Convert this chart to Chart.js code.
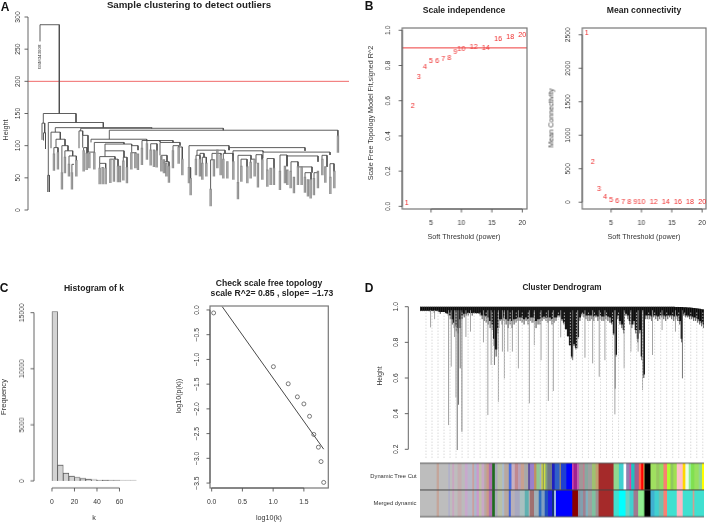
<!DOCTYPE html>
<html>
<head>
<meta charset="utf-8">
<title>WGCNA panels</title>
<script src="https://cdn.jsdelivr.net/npm/chart.js@4"></script>
<style>
  html, body { margin: 0; padding: 0; background: #fff; }
  #page { position: relative; width: 708px; height: 524px; overflow: hidden; filter: blur(0.3px); font-family: "Liberation Sans", sans-serif; color: #333; }
  #page canvas { position: absolute; }
  .lbl { position: absolute; white-space: nowrap; transform: translate(-50%, -50%); font-size: 7.2px; line-height: 1; }
  .rot { transform: translate(-50%, -50%) rotate(-90deg); }
  .ttl { font-weight: bold; font-size: 8.6px; color: #222; }
  .pan { font-weight: bold; font-size: 12px; color: #111; }
</style>
</head>
<body>
<div id="page"></div>
<script>
// --- Panel A: sample tree. Links are [left, right, height, leftBottom, rightBottom]
const sampleLinks = [
  [12, 31.3, 288, 262, 150], [15.3, 48, 150, 135, 136], [14, 16.7, 135, 109, 120], [15.5, 17.5, 120, 108, 95],
  [20.3, 75.3, 136, 54, 128], [19.7, 21.3, 54, 28, 28], [27.3, 123.7, 128, 121, 127], [23, 32.3, 121, 96, 110],
  [28, 37, 110, 97, 100], [25.9, 30, 97, 87, 89], [33.9, 40, 100, 58, 92], [36.9, 44.7, 92, 82, 84],
  [41, 48.3, 84, 71, 77], [43.9, 46, 71, 58, 71], [52.7, 195.3, 127, 123, 124], [51, 54.7, 123, 96, 116],
  [54.7, 60, 116, 97, 90], [55.6, 59, 97, 92, 88], [59, 66.3, 90, 88, 89], [81.3, 309.9, 124, 110, 115],
  [63, 118.7, 110, 105, 108], [66.3, 96, 105, 89, 102.5], [77, 103.7, 102.5, 92, 100], [77, 96, 92, 83, 82],
  [71.7, 87, 83, 72.5, 79], [71.7, 77.7, 72.5, 65, 65], [82.3, 90, 79, 79, 68], [95.3, 99, 82, 76, 66],
  [103.7, 110, 100, 89, 93], [103.3, 108, 89, 89, 88], [114, 132, 108, 96, 106], [118.9, 145, 108, 103, 105],
  [122.7, 129, 103, 93, 92], [132, 152, 105, 85, 100], [133.3, 139, 85, 78, 75], [136, 141, 75, 72.5, 68],
  [145, 150.7, 100, 92, 98], [150.7, 154.3, 98, 98, 79], [161, 201, 100, 66, 93], [161, 162.6, 66, 66, 49],
  [169, 197, 93, 85, 88], [168, 172, 85, 79, 79], [174.3, 178.3, 82, 72.5, 72.5], [172, 176, 88, 85, 82],
  [182.6, 186, 78, 32, 78], [184, 193, 88, 78, 85.5], [195.3, 205, 88, 79, 75], [201, 277, 97, 93, 92],
  [205, 235, 92, 85, 90], [210, 223, 85, 42.5, 79], [213, 219, 79, 68, 67], [222.6, 226.6, 79, 74, 79],
  [228, 234, 86, 72.5, 78], [235, 302, 90, 80, 85.5], [239, 246, 80, 62, 65], [252, 259, 85.5, 60, 68],
  [259, 290, 84, 68, 75], [263, 270, 75, 60, 67], [270, 284, 67, 67, 58], [277, 283, 58, 51, 47],
  [286, 290, 58, 49, 60], [294, 299, 85, 79, 67], [302, 306, 72, 51, 60]
];
const leafPos = [25.3, 29.3, 33.3, 36.3, 40.3, 43.3, 47.7, 55, 58, 60.7, 65.7, 71, 74, 77, 81.7, 85.3, 89.3, 91.3, 94.7, 98.3,
  102.7, 106.7, 109.3, 113.3, 118.3, 122, 125.3, 128, 132.7, 135.3, 137.7, 140.3, 144.3, 150, 153.7, 160.3, 162, 167.3, 171.3, 173.7,
  177.7, 182, 185.3, 188.7, 192, 194.7, 198.7, 204.7, 209.3, 212.7, 218.7, 222, 226, 229.3, 233.7, 238.7, 242, 245.3, 251.3, 256.3,
  258.7, 262, 265.3, 269.3, 273, 276.3, 279.3, 282, 285.3, 289.3, 293.7, 296.7, 301.7, 305.7, 309.3];
const leafTop = [87, 89, 58, 82, 71, 58, 77, 92, 88, 88, 89, 65, 66, 65, 79, 78, 68, 68, 76, 66,
  89, 88, 87, 96, 103, 93, 93, 92, 84, 78, 72.5, 68, 92, 98, 79, 66, 49, 79, 79, 72.5,
  72.5, 32, 78, 93, 85.5, 79, 75, 75, 42.5, 68, 67, 74, 79, 72.5, 78, 62, 65, 65, 60, 68,
  62, 60, 51, 67, 67, 51, 47, 47, 49, 60, 79, 67, 51, 60, 115];
const leafBottom = [61, 63, 32, 57, 52, 32, 52, 60, 62, 65, 63, 40, 40, 40, 42, 44, 43, 43, 46, 41.5,
  63, 65, 62, 70, 78, 69, 67, 66, 60, 57, 52, 42.5, 65, 72, 54, 41.5, 23, 54, 52, 47,
  52, 6, 52, 65, 54, 49, 49, 47, 16.6, 44, 41.5, 49, 52, 35, 47, 36, 39, 39, 31, 41.5,
  39, 34, 26, 39, 39, 27, 21, 18, 23, 34, 54, 42.5, 25, 34, 89];
const outlierCut = [200];

// --- Panel B: soft threshold
const powers = [1, 2, 3, 4, 5, 6, 7, 8, 9, 10, 12, 14, 16, 18, 20];
const scaleFitR2 = [0.02, 0.568, 0.732, 0.794, 0.826, 0.828, 0.834, 0.84, 0.874, 0.892, 0.906, 0.898, 0.949, 0.96, 0.974];
const meanConn = [2530, 601, 195, 75, 35, 20, 10, 5, 3, 2, 2, 1, 1, 1, 1];
const r2Cut = [0.9];

// --- Panel C: histogram and scale free fit
const kBinMid = [2.5, 7.5, 12.5, 17.5, 22.5, 27.5, 32.5, 37.5, 42.5, 47.5, 52.5, 57.5, 62.5, 67.5, 72.5];
const kBinCount = [15100, 1400, 690, 420, 300, 210, 150, 110, 70, 50, 40, 30, 20, 15, 10];
const logK = [0.032, 1.004, 1.245, 1.394, 1.5, 1.592, 1.661, 1.736, 1.779, 1.822];
const logP = [-0.06, -1.147, -1.493, -1.757, -1.9, -2.15, -2.517, -2.775, -3.066, -3.487];
const fitX = [0.171, 1.822];
const fitY = [0.068, -2.815];

// --- Panel D: gene tree, dense band edges (one value every 2 positions)
const bandBottom = [
  .975, .975, .975, .975, .975, .97, .975, .965, .975, .97,
  .96, .97, .97, .96, .95, .93, .90, .88, .86, .85,
  .88, .93, .94, .95, .95, .96, .95, .96, .96, .96,
  .95, .93, .92, .91, .90, .88, .87, .78, .72, .85,
  .92, .90, .92, .90, .88, .90, .88, .90, .91, .92,
  .92, .91, .90, .92, .90, .92, .91, .91, .88, .90,
  .90, .92, .93, .92, .91, .92, .90, .91, .92, .94,
  .94, .92, .90, .87, .83, .78, .71, .78, .76, .82,
  .92, .95, .94, .93, .92, .92, .93, .92, .94, .92,
  .93, .92, .92, .93, .92, .91, .90, .84, .72, .93,
  .90, .88, .85, .95, .93, .90, .88, .90, .85, .80,
  .85, .70, .60, .93, .93, .93, .92, .94, .93, .92,
  .93, .94, .93, .92, .93, .94, .93, .92, .93, .92,
  .90, .80, .95, .94, .94, .93, .93, .92, .92, .91,
  .90, .89, .88
];
const bandCore = [
  .978, .978, .978, .978, .978, .978, .978, .978, .978, .978,
  .97, .97, .97, .965, .96, .95, .93, .91, .89, .88,
  .93, .95, .96, .96, .965, .965, .965, .965, .965, .965,
  .96, .95, .95, .945, .94, .92, .90, .82, .76, .88,
  .93, .93, .94, .93, .92, .93, .92, .93, .93, .94,
  .94, .94, .93, .94, .93, .94, .94, .94, .92, .93,
  .93, .94, .945, .94, .94, .94, .93, .94, .94, .95,
  .95, .93, .91, .875, .835, .785, .72, .79, .77, .83,
  .94, .96, .96, .95, .95, .95, .95, .945, .95, .945,
  .95, .945, .945, .95, .945, .94, .91, .85, .73, .95,
  .92, .90, .87, .96, .95, .92, .90, .92, .87, .82,
  .87, .72, .62, .95, .95, .95, .945, .95, .95, .945,
  .95, .95, .95, .945, .95, .95, .95, .945, .95, .945,
  .92, .82, .96, .95, .95, .945, .945, .94, .94, .93,
  .92, .91, .90
];
// upper edge of the band, drops below 1.0 only on the last 15 columns
const bandTopEnd = [.999, .999, .998, .998, .997, .997, .996, .995, .994, .993, .992, .99, .988, .986, .984];
const graySpikePos = [10.6, 14.6, 28.6, 31.3, 34.6, 36, 46, 50.6, 63.6, 68, 71.3, 78.6, 82.6, 84.6, 88, 92.6, 98.6, 109.6, 114.6, 121.3, 128.6, 133.6, 141, 158, 165.3, 173, 179.6, 185.3, 195.3, 204.6, 211.3, 218.6, 223, 233, 242.6, 256];
const graySpikeLow = [.884, .93, .336, .664, .83, .491, .83, .86, .80, .392, .673, .467, .748, .598, .748, .748, .654, .458, .785, .70, .471, .527, .828, .766, .714, .682, .607, .70, .396, .654, .748, .748, .533, .729, .869, .86];
const darkSpikePos = [37.3, 38.6, 40.3, 42, 74.6, 153, 195.6, 223.6, 263];
const darkSpikeLow = [.196, .45, .654, .299, .673, .70, .54, .607, .598];

// --- Panel D: module colour strips, run ends on a 0-854 position scale
const stripRows = ['Dynamic Tree Cut', 'Merged dynamic'];
const treeCutEnd = [51, 58, 86, 91, 98, 104, 114, 126, 136, 144, 158, 164, 171, 178, 186, 194, 201, 208, 218, 226, 234, 248, 254, 268, 276, 286, 296, 304, 314, 326, 332, 344, 351, 361, 366, 370, 374, 378, 384, 398, 406, 421, 424, 441, 458, 463, 473, 479, 491, 496, 506, 518, 529, 538, 583, 599, 613, 621, 631, 636, 646, 659, 666, 673, 676, 694, 711, 721, 733, 744, 754, 763, 773, 791, 799, 809, 816, 826, 839, 849, 856];
const treeCutColor = ['#bdbdbd', '#c4a59a', '#bdbdbd', '#b0b0c8', '#bdbdbd', '#c9a6c0', '#bdbdbd', '#c4adb0', '#bbbbbb', '#c8a8cc', '#b8b8c8', '#c8a0a0', '#aab8cc', '#cc99cc', '#c0c0a8', '#c8a8c8', '#b8a8a0', '#cc9a88', '#b070b0', '#1f6b1f', '#aaaabb', '#b8c0a8', '#aabbcc', '#b8a8a0', '#4a6de0', '#c8b0c0', '#c08890', '#b8a0b8', '#c8a090', '#a8a8a8', '#6050a0', '#9a80cc', '#c09060', '#90c890', '#a0b0c0', '#d0d040', '#90a060', '#d0e040', '#80a080', '#707888', '#2020c0', '#3060c8', '#c8a040', '#2040d0', '#0000ff', '#cc44aa', '#a02090', '#c060b0', '#a09898', '#c08090', '#88a8a0', '#a0a0a0', '#a0c070', '#c0a070', '#a52a2a', '#90d890', '#40d0d0', '#ffffff', '#9080b0', '#e040a0', '#20c0c0', '#a06090', '#ff6347', '#ff0000', '#d0c060', '#000000', '#a0e060', '#98c860', '#90e060', '#fa8072', '#adff2f', '#90c860', '#a0e050', '#ffc0cb', '#ffd700', '#e8ffe8', '#90ee90', '#80e050', '#98e060', '#90d890', '#ffff00'];
const mergedEnd = [51, 58, 86, 91, 98, 104, 114, 126, 136, 144, 158, 164, 171, 178, 186, 194, 201, 208, 218, 226, 234, 248, 254, 268, 274, 286, 301, 316, 328, 331, 344, 358, 366, 376, 386, 398, 404, 410, 459, 476, 483, 491, 499, 506, 518, 529, 538, 583, 599, 619, 631, 643, 657, 673, 676, 694, 706, 719, 733, 744, 773, 791, 821, 826, 856];
const mergedColor = ['#bdbdbd', '#c4a59a', '#bdbdbd', '#b0b0c8', '#bdbdbd', '#c9a6c0', '#bdbdbd', '#c4adb0', '#bbbbbb', '#c8a8cc', '#b8b8c8', '#c8a0a0', '#aab8cc', '#cc99cc', '#c0c0a8', '#c8a8c8', '#b8a8a0', '#cc9a88', '#b070b0', '#1f6b1f', '#aaaabb', '#b8c0a8', '#aabbcc', '#b8a8a0', '#4060e0', '#b8b0b8', '#a8a8c0', '#a8c0c0', '#60b0b0', '#bbbbbb', '#a07070', '#a0b0b8', '#3070c0', '#80a0c0', '#2050c0', '#2020e0', '#103080', '#a0b8e0', '#0000ff', '#8b0000', '#9090a0', '#80a0b0', '#a08090', '#80b0c0', '#a0a0a0', '#80c0a0', '#a09090', '#a52a2a', '#40e0d0', '#00ffff', '#70d0c0', '#40d0d0', '#a07890', '#90ee90', '#70d070', '#000000', '#40b0d0', '#40d0d0', '#70c0b0', '#fa8072', '#40e0d0', '#ffb6c1', '#40e0d0', '#d0a090', '#40e0d0'];

const page = document.getElementById('page');

// R-style axes: spine between first and last tick, rotated y labels
Chart.register({
  id: 'rAxes',
  afterDatasetsDraw(chart, args, o) {
    const { ctx, chartArea: a, scales } = chart;
    if (!o.on) return;
    ctx.save();
    ctx.strokeStyle = '#555';
    ctx.lineWidth = 0.9;
    ctx.fillStyle = '#333';
    ctx.font = '6.8px "Liberation Sans"';
    ctx.textAlign = 'center';
    ctx.textBaseline = 'middle';
    if (o.box) {
      ctx.strokeStyle = '#777';
      ctx.lineWidth = 1.2;
      ctx.strokeRect(a.left, a.top, a.right - a.left, a.bottom - a.top);
      ctx.strokeStyle = '#555';
      ctx.lineWidth = 0.9;
    }
    if (o.showX) {
      const y0 = a.bottom + o.xOff;
      const xs = scales.x.ticks.map(t => scales.x.getPixelForValue(t.value));
      ctx.beginPath();
      ctx.moveTo(xs[0], y0);
      ctx.lineTo(xs[xs.length - 1], y0);
      xs.forEach(x => { ctx.moveTo(x, y0); ctx.lineTo(x, y0 + 3.5); });
      ctx.stroke();
      scales.x.ticks.forEach((t, i) => ctx.fillText(t.label, xs[i], a.bottom + o.xLab));
    }
    const x0 = a.left - o.yOff;
    const ys = scales.y.ticks.map(t => scales.y.getPixelForValue(t.value));
    ctx.beginPath();
    ctx.moveTo(x0, ys[0]);
    ctx.lineTo(x0, ys[ys.length - 1]);
    ys.forEach(y => { ctx.moveTo(x0, y); ctx.lineTo(x0 - 3.5, y); });
    ctx.stroke();
    scales.y.ticks.forEach((t, i) => {
      ctx.save();
      ctx.translate(a.left - o.yLab, ys[i]);
      ctx.rotate(-Math.PI / 2);
      ctx.fillText(t.label, 0, 0);
      ctx.restore();
    });
    ctx.restore();
  }
});

// red number labels instead of points (panel B)
Chart.register({
  id: 'pointText',
  afterDatasetsDraw(chart) {
    const { ctx } = chart;
    chart.data.datasets.forEach((ds, i) => {
      if (!ds.pointText) return;
      ctx.save();
      ctx.fillStyle = '#ee2c2c';
      ctx.font = '7.2px "Liberation Sans"';
      ctx.textAlign = 'center';
      ctx.textBaseline = 'middle';
      chart.getDatasetMeta(i).data.forEach((el, j) => ctx.fillText(ds.pointText[j], el.x, el.y));
      ctx.restore();
    });
  }
});

function axis(min, max, values, labels) {
  return {
    type: 'linear', display: false, min, max,
    afterBuildTicks: s => { if (values) s.ticks = values.map(value => ({ value })); },
    ticks: { callback: (v, i) => (labels ? labels[i] : String(v)) }
  };
}

// canvas placed so the plot area lands on the given page box
function addChart(box, cfg) {
  const m = { l: 30, r: 3, t: 14, b: 26 };
  const c = document.createElement('canvas');
  const w = box.right - box.left + m.l + m.r;
  const h = box.bottom - box.top + m.t + m.b;
  c.width = w; c.height = h;
  c.style.left = (box.left - m.l) + 'px';
  c.style.top = (box.top - m.t) + 'px';
  c.style.width = w + 'px';
  c.style.height = h + 'px';
  page.appendChild(c);
  cfg.options = Object.assign({ responsive: false, animation: false, events: [],
    layout: { padding: { left: m.l, right: m.r, top: m.t, bottom: m.b } } }, cfg.options);
  cfg.options.plugins = Object.assign({ legend: { display: false }, tooltip: { enabled: false } }, cfg.options.plugins);
  return new Chart(c, cfg);
}

function addLabel(text, x, y, cls, size) {
  const d = document.createElement('div');
  d.className = 'lbl ' + (cls || '');
  d.textContent = text;
  d.style.left = x + 'px';
  d.style.top = y + 'px';
  if (size) d.style.fontSize = size + 'px';
  page.appendChild(d);
}

// points with breaks, for one scatter line dataset
function pathData(rows) {
  const pts = [];
  rows.forEach(r => {
    r.forEach(p => pts.push({ x: p[0], y: p[1] }));
    pts.push({ x: null, y: null });
  });
  return pts;
}
function lineSet(data, color, width, extra) {
  return Object.assign({ type: 'scatter', data, showLine: true, borderColor: color, borderWidth: width,
    pointRadius: 0, fill: false, tension: 0, spanGaps: false, borderCapStyle: 'butt' }, extra);
}

// ---- A ----
const linkPaths = sampleLinks.map(l => [[l[0], l[3]], [l[0], l[2]], [l[1], l[2]], [l[1], l[4]]]);
const leafPaths = leafPos.map((x, i) => [[x, leafBottom[i]], [x, leafTop[i]], [x + 1.3, leafTop[i]], [x + 1.3, leafBottom[i]]]);
addChart({ left: 28, right: 349, top: 17, bottom: 210 }, {
  type: 'scatter',
  data: { datasets: [
    lineSet(pathData(leafPaths), '#8c8c8c', 1.1),
    lineSet(pathData(linkPaths), '#4d4d4d', 0.9),
    lineSet([{ x: 0, y: outlierCut[0] }, { x: 321, y: outlierCut[0] }], '#f06a6a', 1)
  ] },
  options: {
    scales: { x: axis(0, 321), y: axis(0, 300, [0, 50, 100, 150, 200, 250, 300]) },
    plugins: { rAxes: { on: true, yOff: 0, yLab: 10 } }
  }
});

// ---- B ----
addChart({ left: 402.3, right: 526.7, top: 27.7, bottom: 209.3 }, {
  type: 'scatter',
  data: { datasets: [
    { data: powers.map((p, i) => ({ x: p, y: scaleFitR2[i] })), pointRadius: 0, pointText: powers },
    lineSet([{ x: 0, y: r2Cut[0] }, { x: 21, y: r2Cut[0] }], '#ee3b3b', 1)
  ] },
  options: {
    scales: { x: axis(0.27, 20.77, [5, 10, 15, 20]), y: axis(-0.015, 1.013, [0, 0.2, 0.4, 0.6, 0.8, 1], ['0.0', '0.2', '0.4', '0.6', '0.8', '1.0']) },
    plugins: { rAxes: { on: true, box: true, showX: true, xOff: 0, xLab: 14, yOff: 0, yLab: 14 } }
  }
});
addChart({ left: 582.3, right: 705.7, top: 27.7, bottom: 209.3 }, {
  type: 'scatter',
  data: { datasets: [
    { data: powers.map((p, i) => ({ x: p, y: meanConn[i] })), pointRadius: 0, pointText: powers }
  ] },
  options: {
    scales: { x: axis(0.24, 20.64, [5, 10, 15, 20]), y: axis(-101, 2601, [0, 500, 1000, 1500, 2000, 2500]) },
    plugins: { rAxes: { on: true, box: true, showX: true, xOff: 0, xLab: 14, yOff: 0, yLab: 13.5 } }
  }
});

// ---- C ----
addChart({ left: 34, right: 152, top: 307.4, bottom: 481 }, {
  type: 'bar',
  data: { datasets: [{
    data: kBinMid.map((m, i) => ({ x: m, y: kBinCount[i] })),
    backgroundColor: '#d3d3d3', borderColor: '#555', borderWidth: 0.8,
    barPercentage: 1, categoryPercentage: 1
  }] },
  options: {
    scales: { x: axis(-2.87, 75.8, [0, 20, 40, 60]), y: axis(0, 15500, [0, 5000, 10000, 15000]) },
    plugins: { rAxes: { on: true, showX: true, xOff: 7, xLab: 21, yOff: 0, yLab: 12 } }
  }
});
addChart({ left: 210, right: 330, top: 306, bottom: 488.3 }, {
  type: 'scatter',
  data: { datasets: [
    { data: logK.map((k, i) => ({ x: k, y: logP[i] })), pointRadius: 2, pointBorderColor: '#444', pointBackgroundColor: 'rgba(0,0,0,0)', pointBorderWidth: 0.7 },
    lineSet([{ x: fitX[0], y: fitY[0] }, { x: fitX[1], y: fitY[1] }], '#333', 0.9)
  ] },
  options: {
    scales: {
      x: axis(-0.027, 1.897, [0, 0.5, 1, 1.5], ['0.0', '0.5', '1.0', '1.5']),
      y: axis(-3.6, 0.08, [0, -0.5, -1, -1.5, -2, -2.5, -3, -3.5], ['0.0', '\u22120.5', '\u22121.0', '\u22121.5', '\u22122.0', '\u22122.5', '\u22123.0', '\u22123.5'])
    },
    plugins: { rAxes: { on: true, box: true, showX: true, xOff: 0, xLab: 14, yOff: 0, yLab: 13 } }
  }
});

// ---- D tree ----
const guideRows = [];
for (let g = 6; g < 285; g += 6.03) guideRows.push([[g, 0.151], [g, 0.97]]);
const topAt = i => (i >= bandBottom.length - bandTopEnd.length ? bandTopEnd[i - bandBottom.length + bandTopEnd.length] : 1);
const bandRows = bandBottom.map((v, i) => [[0.3 + 2 * i, v], [0.3 + 2 * i, topAt(i)]]);
const coreRows = bandCore.map((v, i) => [[0.3 + 2 * i, v], [0.3 + 2 * i, topAt(i)]]);
addChart({ left: 419.7, right: 704.3, top: 303, bottom: 460 }, {
  type: 'scatter',
  data: { datasets: [
    lineSet(pathData(guideRows), '#d0d0d0', 0.8, { borderDash: [1.5, 1.5] }),
    lineSet(pathData(graySpikePos.map((x, i) => [[x, graySpikeLow[i]], [x, 0.98]])), '#9a9a9a', 0.9),
    lineSet(pathData(darkSpikePos.map((x, i) => [[x, darkSpikeLow[i]], [x, 0.98]])), '#666', 0.9),
    lineSet(pathData(bandRows), '#333', 0.9),
    lineSet(pathData(coreRows), '#000', 2.2)
  ] },
  options: {
    scales: { x: axis(0, 284.6), y: axis(0.14, 1.0208, [0.2, 0.4, 0.6, 0.8, 1], ['0.2', '0.4', '0.6', '0.8', '1.0']) },
    plugins: { rAxes: { on: true, yOff: 11.7, yLab: 23.7 } }
  }
});

// ---- D strips ----
function stripSet(row, ends, colors) {
  return {
    data: ends.map((e, i) => ({ x: [i ? ends[i - 1] : 0, e], y: row })),
    backgroundColor: colors, borderWidth: 0, grouped: false, barPercentage: 1, categoryPercentage: 1
  };
}
addChart({ left: 419.7, right: 704.3, top: 463.3, bottom: 516.7 }, {
  type: 'bar',
  plugins: [{
    id: 'stripRules',
    afterDatasetsDraw(chart) {
      const { ctx, chartArea: a } = chart;
      ctx.save();
      ctx.strokeStyle = '#444';
      ctx.lineWidth = 0.9;
      ctx.beginPath();
      [a.top, (a.top + a.bottom) / 2, a.bottom].forEach(y => { ctx.moveTo(a.left, y); ctx.lineTo(a.right, y); });
      ctx.stroke();
      ctx.restore();
    }
  }],
  data: { labels: stripRows, datasets: [
    stripSet(stripRows[0], treeCutEnd, treeCutColor),
    stripSet(stripRows[1], mergedEnd, mergedColor)
  ] },
  options: {
    indexAxis: 'y',
    scales: { x: { type: 'linear', display: false, min: 0, max: 854 }, y: { type: 'category', display: false } }
  }
});

// ---- text ----
addLabel('A', 5, 7, 'pan');
addLabel('B', 369, 6, 'pan');
addLabel('C', 4, 288, 'pan');
addLabel('D', 369, 288, 'pan');
addLabel('Sample clustering to detect outliers', 189, 5, 'ttl', 9.7);
addLabel('Scale independence', 464, 10, 'ttl');
addLabel('Mean connectivity', 644, 10, 'ttl');
addLabel('Histogram of k', 94, 288, 'ttl');
addLabel('Check scale free topology', 269, 283, 'ttl');
addLabel('scale R^2= 0.85 , slope= \u22121.73', 272, 293, 'ttl');
addLabel('Cluster Dendrogram', 562, 288, 'ttl', 8.2);
addLabel('Height', 6, 130, 'rot');
addLabel('GSM343608', 40, 57, 'rot', 4.4);
addLabel('Scale Free Topology Model Fit,signed R^2', 371, 113, 'rot');
addLabel('Mean Connectivity', 551, 118, 'rot');
addLabel('Soft Threshold (power)', 464, 237);
addLabel('Soft Threshold (power)', 644, 237);
addLabel('Frequency', 4, 397, 'rot', 7.6);
addLabel('k', 94, 518);
addLabel('log10(p(k))', 179, 396, 'rot');
addLabel('log10(k)', 269, 518);
addLabel('Height', 380, 376, 'rot', 6.6);
addLabel('Dynamic Tree Cut', 393.5, 477, '', 5.8);
addLabel('Merged dynamic', 395, 503.7, '', 5.8);
</script>
</body>
</html>
